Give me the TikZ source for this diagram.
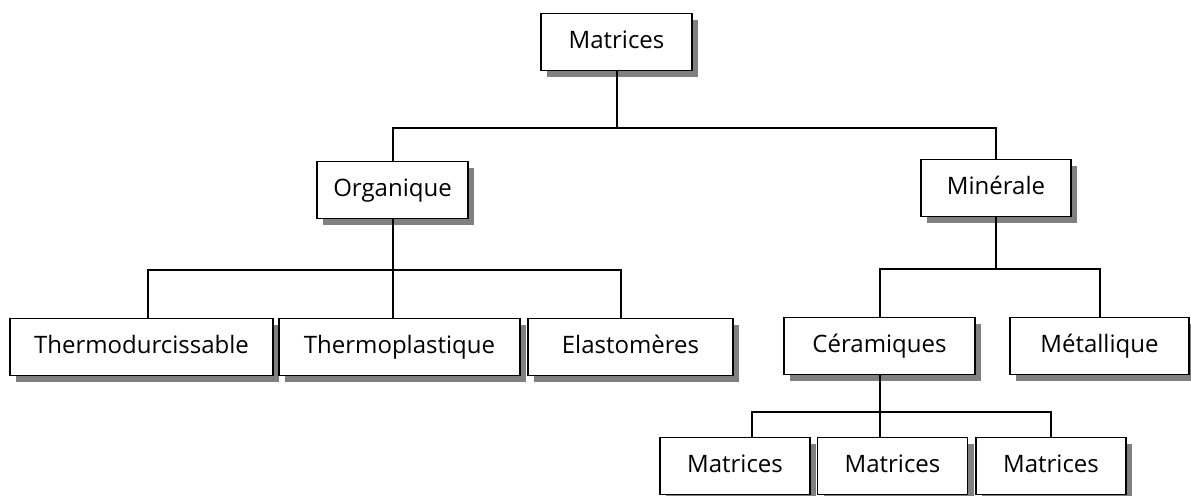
\documentclass[tikz,border=0pt]{standalone}
\usepackage{fontspec}
\setmainfont{Open Sans}
\usetikzlibrary{shapes, shadows}
\tikzstyle{block} = [rectangle, draw, fill=white, line width=0.9pt,
	text centered, text height=9pt, text depth=3pt, minimum height=28.5pt, font=\fontsize{12}{14}\selectfont,
	drop shadow={shadow xshift=3pt, shadow yshift=-3pt, fill=black!50, opacity=1}]
\tikzstyle{link} = [draw, line width=1pt]

\begin{document}
\begin{tikzpicture}[node distance = 2cm, auto]
		\useasboundingbox (0,0) rectangle (595.5pt,-247.5pt);
		%Place node
		\node [block, minimum width=75.5pt] (mat) at (308.25pt,-21pt) {Matrices};
		\node [block, minimum width=75.5pt, node distance=74pt, below of=mat, xshift=-112pt] (org) {Organique};
		\node [block, minimum width=75pt, node distance=301.75pt, right of=org, yshift=1pt] (min) {Minérale};
		\node [block, minimum width=131.5pt, node distance=78.5pt, below of=org, xshift=-125.5pt] (thd) {Thermodurcissable};
		\node [block, minimum width=120.5pt, node distance=129pt, right of=thd] (thp) {Thermoplastique};
		\node [block, minimum width=102.5pt, node distance=115.5pt, right of=thp] (ela) {Elastomères};
		\node [block, minimum width=95.5pt, node distance=79pt, below of=min, xshift=-58.25pt] (cer) {Céramiques};
		\node [block, minimum width=89.5pt, node distance=110pt, right of=cer] (met) {Métallique};
		\node [block, minimum width=75pt, node distance=60pt, below of=cer, xshift=-72.25pt] (m1) {Matrices};
		\node [block, minimum width=75pt, node distance=78.75pt, right of=m1] (m2) {Matrices};
		\node [block, minimum width=75pt, node distance=79.25pt, right of=m2] (m3) {Matrices};
		
		%Bar levels and drop points
		\coordinate (b1) at (0,-64pt);
		\coordinate (b2) at (0,-135pt);
		\coordinate (b3) at (0,-134.5pt);
		\coordinate (b4) at (0,-206pt);
		\coordinate (thdtop) at ([xshift=3.25pt]thd.north);
		\coordinate (elatop) at ([xshift=-5pt]ela.north);
		\coordinate (m1top) at ([xshift=8.5pt]m1.north);
		
		%Draw edges
		\draw [link] (mat.south) -- (mat.south |- b1);
		\draw [link] (org.north) |- (b1 -| min.north) -- (min.north);
		
		\draw [link] (org.south) -- (org.south |- thp.north);
		\draw [link] (thdtop) |- (b2 -| elatop) -- (elatop);
		
		\draw [link] (min.south) -- (min.south |- b3);
		\draw [link] (cer.north) |- (b3 -| met.north) -- (met.north);
		
		\draw [link] (cer.south) -- (cer.south |- m2.north);
		\draw [link] (m1top) |- (b4 -| m3.north) -- (m3.north);
		
	\end{tikzpicture}
\end{document}
